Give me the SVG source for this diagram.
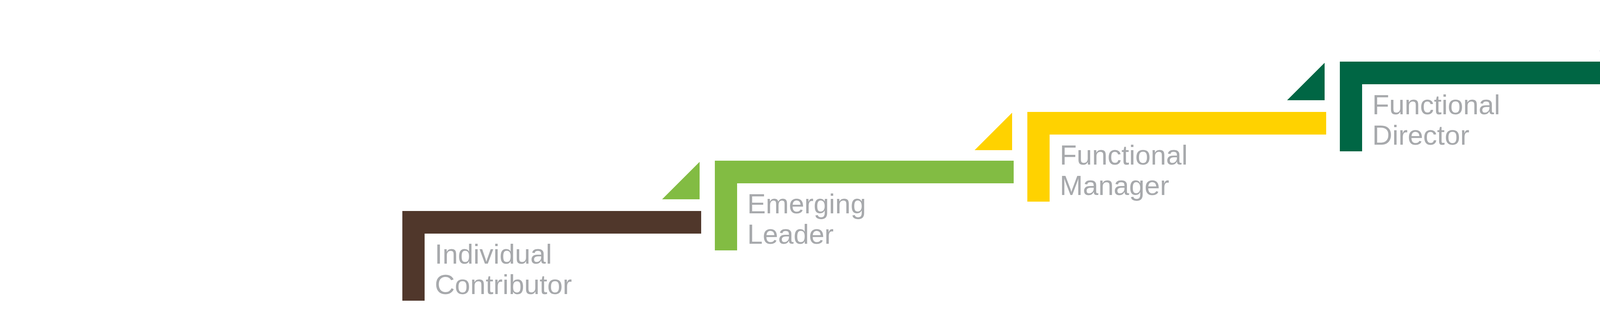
<svg xmlns="http://www.w3.org/2000/svg" width="6000" height="800" viewBox="0 0 6000 800">
<style>
.lbl{font-family:"Liberation Sans",Arial,sans-serif;font-size:71px;fill:#a7a9ac}
.lblb{font-family:"Liberation Sans",Arial,sans-serif;font-size:71px;font-weight:bold;fill:#000}
.c0{fill:#50372b}.c1{fill:#82bc43}.c2{fill:#ffd200}.c3{fill:#006644}.c4{fill:#1f355e}
</style>
<rect width="6000" height="800" fill="#fff"/>
<g id="connectors">
<polygon class="c1" points="1791,415 1791,511 1695,511"/>
<polygon class="c2" points="2591,289 2591,385 2495,385"/>
<polygon class="c3" points="3391,161 3391,257 3295,257"/>
<polygon class="c4" points="4191,35 4191,131 4095,131"/>
</g>
<g id="individual-contributor">
<path class="c0" d="M1030,541H1795V599H1087V771H1030Z"/>
<text class="lbl" x="1113" y="676">Individual</text>
<text class="lbl" x="1113" y="754">Contributor</text>
</g>
<g id="emerging-leader">
<path class="c1" d="M1830,412H2595V470H1887V642H1830Z"/>
<text class="lbl" x="1913" y="547">Emerging</text>
<text class="lbl" x="1913" y="625">Leader</text>
</g>
<g id="functional-manager">
<path class="c2" d="M2630,287H3395V345H2687V517H2630Z"/>
<text class="lbl" x="2713" y="422">Functional</text>
<text class="lbl" x="2713" y="500">Manager</text>
</g>
<g id="functional-director">
<path class="c3" d="M3430,158H4195V216H3487V388H3430Z"/>
<text class="lbl" x="3513" y="293">Functional</text>
<text class="lbl" x="3513" y="371">Director</text>
</g>
<g id="organizational-leader">
<path class="c4" d="M4230,33H4995V91H4287V263H4230Z"/>
<text class="lblb" x="4313" y="168">Organizational</text>
<text class="lblb" x="4313" y="246">Leader</text>
</g>
</svg>
